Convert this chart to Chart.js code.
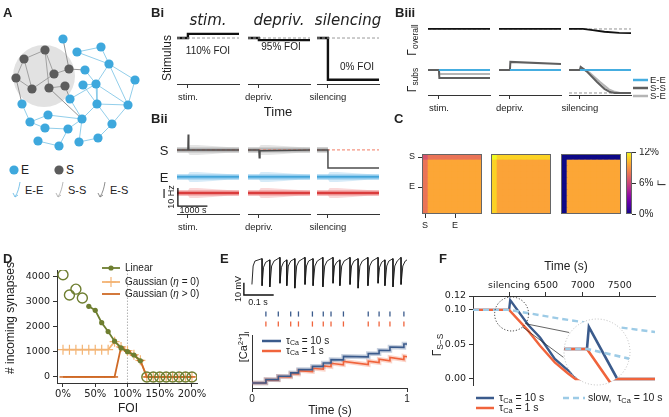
<!DOCTYPE html>
<html>
<head>
<meta charset="utf-8">
<title>Homeostatic rewiring figure</title>
<script src="https://cdn.jsdelivr.net/npm/chart.js@4.4.1/dist/chart.umd.min.js"></script>
<style>
  body { margin: 0; background: #fff; }
  #fig { position: relative; width: 669px; height: 417px; overflow: hidden;
         font-family: 'Liberation Sans', Arial, sans-serif; color: #222; }
  #fig canvas { position: absolute; }
  .t { position: absolute; white-space: nowrap; line-height: 1; }
  .pl { font-weight: bold; font-size: 13px; }
  sub { font-size: 70%; vertical-align: -0.25em; }
  sup { font-size: 70%; vertical-align: 0.45em; }
</style>
</head>
<body>
<div id="fig"></div>
<script>
// ---- A: toy network, node positions ----
const eNodes = [[63,39],[77,52],[101,47],[109,64],[135,80],[85,70],[83,85],[96,84],[70,99],[97,104],[128,105],
                [22,104],[48,115],[30,122],[45,128],[82,119],[112,124],[68,129],[38,141],[59,146],[79,142],[98,138]];
const sNodes = [[45,50],[24,59],[54,74],[69,69],[16,78],[32,89],[49,88],[65,86]];
const eeEdges = [[1,2],[2,3],[1,3],[3,4],[3,7],[3,10],[4,10],[5,7],[6,7],[7,10],[7,9],[9,10],[9,16],[10,16],
                 [7,8],[8,15],[15,9],[15,17],[15,20],[20,21],[17,19],[19,18],[11,13],[13,12],[13,14],[12,15],[6,9],[14,17],[21,16]];
const ssEdges = [[0,1],[0,2],[1,5],[4,5],[5,2],[2,3],[6,7],[0,6],[1,4]];
const esEdges = [[3,0],[4,11],[6,15],[7,8],[3,5]];   // [S index, E index]
const assembly = [44, 76];

// ---- B: protocols ----
const protocols = ['stim.', 'depriv.', 'silencing'];
const stimLevel = [1.1, 0.95, 0];
const foiLabel = ['110% FOI', '95% FOI', '0% FOI'];
const tEnd = 2100, tEvent = 370;

// Bii firing rates (Hz)
const sRate = [
  [[0,10],[370,10],[380,18.5],[398,10],[2100,10]],
  [[0,10],[370,10],[382,5.6],[405,9.6],[2100,10]],
  [[0,10],[370,10],[371,0],[2100,0]]
];
const sTarget = 10, eRate = 5, iRate = 8;
const spreadT  = [0, 370, 430, 700, 1200, 1700, 2100];
const spreadHz = [1.4, 1.4, 2.8, 2.8, 2.2, 1.6, 1.4];

// Biii connectivity
const gOverall = [
  [[0,0.1],[2100,0.1]],
  [[0,0.1],[2100,0.1]],
  [[0,0.1],[470,0.1],[800,0.095],[1200,0.088],[1700,0.083],[2100,0.082]]
];
const gEE = [[370,0.1],[2100,0.1]];
const gSS = [
  [[0,0.1],[370,0.1],[385,0.065],[2100,0.065]],
  [[0,0.1],[370,0.1],[385,0.135],[2100,0.126]],
  [[0,0.1],[370,0.1],[395,0.113],[600,0.094],[950,0.048],[1200,0.018],[1390,0.004],[1550,0],[2100,0]]
];
const gSE = [
  [[0,0.1],[370,0.1],[385,0.083],[2100,0.083]],
  [[0,0.1],[2100,0.1]],
  [[0,0.1],[370,0.1],[405,0.11],[700,0.088],[1050,0.048],[1350,0.016],[1550,0.005],[1730,0],[2100,0]]
];

// C: connectivity matrices (% connected) per block
const heatSS = [6.6, 12, 0];
const heatSE = [7.8, 10.9, 0];
const heatES = [7.8, 10.9, 0];
const heatEE = [9.6, 9.5, 9.6];
const nCells = 10;
const cbTicks = [0, 6, 12];

// D: incoming synapses vs FOI
const foiTicks = [0, 50, 100, 150, 200];
const synTicks = [0, 1000, 2000, 3000, 4000];
const foiOpen = [[0,4050],[10,3250],[20,3480],[30,3130],[130,0],[140,0],[150,0],[160,0],[170,0],[180,0],[190,0],[200,0]];
const foiLinear = [[40,2800],[50,2640],[60,2150],[70,1800],[80,1420],[90,1150],[100,1000],[110,870],[120,640]];
const foiGauss0 = [[0,1080],[10,1080],[20,1080],[30,1080],[40,1080],[50,1080],[60,1080],[70,1080],[80,1400],[90,1190],
                   [100,1040],[110,880],[120,660],[130,0],[140,0],[150,0],[160,0],[170,0],[180,0],[190,0],[200,0]];
const foiGaussPos = [[0,0],[10,0],[20,0],[30,0],[40,0],[50,0],[60,0],[70,0],[80,0],[90,1180],
                     [100,1020],[110,860],[120,650],[130,0],[140,0],[150,0],[160,0],[170,0],[180,0],[190,0],[200,0]];

// E: membrane potential (s, mV), spikes (s), calcium (a.u.)
const vTrace = [[0.000,-67],[0.004,-52],[0.010,-48],[0.034,-46],[0.034,-68],[0.039,-53],[0.046,-49],[0.060,-47],
  [0.060,-69],[0.066,-52],[0.074,-48],[0.094,-45],[0.094,-66],[0.099,-53],[0.106,-49],[0.117,-47],
  [0.117,-68],[0.122,-52],[0.130,-48],[0.144,-46],[0.144,-70],[0.150,-52],[0.158,-48],[0.178,-45],
  [0.178,-67],[0.183,-52],[0.190,-48],[0.205,-46],[0.205,-68],[0.211,-52],[0.219,-48],[0.238,-45],
  [0.238,-69],[0.244,-52],[0.252,-48],[0.272,-45],[0.272,-66],[0.277,-52],[0.284,-49],[0.295,-47],
  [0.295,-68],[0.301,-52],[0.309,-48],[0.329,-45],[0.329,-67],[0.334,-52],[0.342,-48],[0.356,-46],
  [0.356,-70],[0.362,-52],[0.370,-48],[0.389,-45],[0.389,-68],[0.395,-52],[0.403,-48],[0.423,-45],
  [0.423,-66],[0.428,-53],[0.435,-49],[0.446,-47],[0.446,-68],[0.452,-52],[0.459,-48],[0.473,-46],
  [0.473,-69],[0.479,-52],[0.487,-48],[0.500,-45],[0.500,-67],[0.506,-52],[0.514,-48],[0.520,-47]];
const spikeT = [0.09,0.17,0.25,0.30,0.39,0.46,0.51,0.59,0.75,0.82,0.89,0.98];
const caSlow = [[0,0],[0.09,0],[0.09,1.0],[0.17,0.99],[0.17,1.99],[0.25,1.98],[0.25,2.98],[0.30,2.96],[0.30,3.96],
  [0.39,3.93],[0.39,4.93],[0.46,4.89],[0.46,5.89],[0.51,5.86],[0.51,6.86],[0.59,6.81],[0.59,7.81],[0.75,7.68],
  [0.75,8.68],[0.82,8.62],[0.82,9.62],[0.89,9.56],[0.89,10.56],[0.98,10.46],[0.98,11.46],[1.0,11.44]];
const caFast = [[0,0],[0.09,0],[0.09,1.0],[0.17,0.92],[0.17,1.92],[0.25,1.77],[0.25,2.77],[0.30,2.64],[0.30,3.64],
  [0.39,3.33],[0.39,4.33],[0.46,4.04],[0.46,5.04],[0.51,4.79],[0.51,5.79],[0.59,5.35],[0.59,6.35],[0.75,5.41],
  [0.75,6.41],[0.82,5.98],[0.82,6.98],[0.89,6.51],[0.89,7.51],[0.98,6.86],[0.98,7.86],[1.0,7.70]];

// F: S-S connectivity after silencing
const tSilence = 6000;
const fTicks = [6000, 6500, 7000, 7500];
const gTicks = [0, 0.05, 0.10, 0.12];
const fTau10 = [[5510,0.1],[6000,0.1],[6015,0.114],[6260,0.078],[6420,0.060],[6620,0.029],[6760,0.016],[6900,0.004],[6980,0],[7980,0]];
const fTau1 = [[5510,0.1],[6000,0.1],[6250,0.071],[6420,0.048],[6620,0.024],[6800,0.008],[6900,0],[7980,0]];
const fSlow = [[5510,0.1],[6000,0.1],[6700,0.087],[7400,0.076],[7980,0.068]];
const lensAt = [6034, 0.094];

// ---------------- styling / helpers ----------------
const cE = '#3ea8dd', cS = '#5c5c5c';
const cEE = '#45ade0', cSS = '#5f5f5f', cSE = '#b5b5b5';
const cLin = '#6e7e30', cG0 = '#f3b474', cGp = '#cf6a26';
const c10 = '#3b5b8c', c1 = '#f0643c', cSlow = '#9dcbe6';
const plasma = ['#0d0887','#41049d','#6a00a8','#8f0da4','#b12a90','#cc4778','#e16462','#f2844b','#fca636','#fcce25','#f0f921'];
const dv = "'DejaVu Sans', sans-serif";

Chart.defaults.animation = false;
Chart.defaults.responsive = false;
Chart.defaults.events = [];
Chart.defaults.layout.autoPadding = false;
Chart.defaults.font.family = "'Liberation Sans', Arial, sans-serif";
Chart.defaults.font.size = 9.5;
Chart.defaults.color = '#222';
Chart.defaults.plugins.legend.display = false;
Chart.defaults.plugins.tooltip.enabled = false;
Chart.defaults.elements.point.radius = 0;
Chart.defaults.elements.line.tension = 0;

const fig = document.getElementById('fig');
const pts = arr => arr.map(([x, y]) => ({ x, y }));
const shift = (arr, off) => arr.map(([x, y]) => [x, y + off]);
const ln = (data, color, width, extra) =>
  Object.assign({ data: pts(data), borderColor: color, borderWidth: width, pointRadius: 0, fill: false }, extra);
const off = (min, max, extra) => Object.assign({ type: 'linear', display: false, min, max }, extra);
const fixW = w => s => { s.width = w; s.paddingTop = 0; s.paddingBottom = 0; s.paddingLeft = 0; s.paddingRight = 0; };
const fixH = h => s => { s.height = h; s.paddingLeft = 0; s.paddingRight = 0; s.paddingTop = 0; s.paddingBottom = 0; };
const tickGrid = { display: true, drawOnChartArea: false, drawTicks: true, tickLength: 4, color: '#333' };
const axisLine = { display: true, color: '#333', width: 1 };

function chartAt(x, y, w, h, cfg) {
  const c = document.createElement('canvas');
  c.width = w; c.height = h;
  c.style.left = x + 'px'; c.style.top = y + 'px';
  c.style.width = w + 'px'; c.style.height = h + 'px';
  fig.appendChild(c);
  return new Chart(c, cfg);
}

function txt(html, x, y, size, o = {}) {
  const d = document.createElement('div');
  d.className = 't' + (o.cls ? ' ' + o.cls : '');
  d.innerHTML = html;
  d.style.left = x + 'px'; d.style.top = y + 'px';
  if (size) d.style.fontSize = size + 'px';
  const tx = o.left ? '0' : '-50%';
  d.style.transform = `translate(${tx},-50%)` + (o.rot ? ` rotate(${o.rot}deg)` : '');
  if (o.style) d.style.cssText += o.style;
  fig.appendChild(d);
}

const svgNS = 'http://www.w3.org/2000/svg';
const svg = document.createElementNS(svgNS, 'svg');
svg.setAttribute('width', 669); svg.setAttribute('height', 417);
svg.style.cssText = 'position:absolute;left:0;top:0;pointer-events:none';
function sv(tag, attrs) {
  const e = document.createElementNS(svgNS, tag);
  for (const k in attrs) e.setAttribute(k, attrs[k]);
  svg.appendChild(e);
}
const legLine = (x1, x2, y, color, w, dash) =>
  sv('line', { x1, y1: y, x2, y2: y, stroke: color, 'stroke-width': w, 'stroke-dasharray': dash || 'none' });

const hex = h => [1, 3, 5].map(i => parseInt(h.slice(i, i + 2), 16));
function plasmaAt(f) {
  f = Math.max(0, Math.min(1, f)) * (plasma.length - 1);
  const k = Math.min(Math.floor(f), plasma.length - 2), u = f - k;
  const a = hex(plasma[k]), b = hex(plasma[k + 1]);
  return `rgb(${a.map((v, j) => Math.round(v + (b[j] - v) * u)).join(',')})`;
}

const frame = {
  id: 'frame',
  afterDraw(c) {
    const a = c.chartArea, ctx = c.ctx;
    ctx.save(); ctx.strokeStyle = '#666'; ctx.lineWidth = 1;
    ctx.strokeRect(a.left + 0.5, a.top + 0.5, a.right - a.left - 1, a.bottom - a.top - 1);
    ctx.restore();
  }
};

// ---------------- A ----------------
const edgePts = (edges, from, to) => edges.flatMap(([a, b]) => [
  { x: from[a][0], y: from[a][1] }, { x: to[b][0], y: to[b][1] }, { x: null, y: null }]);

chartAt(0, 20, 150, 140, {
  type: 'line',
  data: { datasets: [
    { data: pts(eNodes), showLine: false, pointRadius: 4.6, pointBackgroundColor: cE, pointBorderWidth: 0 },
    { data: pts(sNodes), showLine: false, pointRadius: 4.6, pointBackgroundColor: cS, pointBorderWidth: 0 },
    { data: edgePts(eeEdges, eNodes, eNodes), borderColor: '#86c8e8', borderWidth: 0.9, pointRadius: 0 },
    { data: edgePts(ssEdges, sNodes, sNodes), borderColor: '#9a9a9a', borderWidth: 0.9, pointRadius: 0 },
    { data: edgePts(esEdges, sNodes, eNodes), borderColor: '#8a8a8a', borderWidth: 0.9, pointRadius: 0 },
    { type: 'bubble', data: [{ x: assembly[0], y: assembly[1], r: 31 }], backgroundColor: '#e2e2e2', borderWidth: 0 }
  ] },
  options: { scales: { x: off(0, 150), y: off(20, 160, { reverse: true }) } }
});

sv('circle', { cx: 14, cy: 170, r: 4.6, fill: cE });
sv('circle', { cx: 59, cy: 170, r: 4.6, fill: cS });
txt('E', 21, 170, 12, { left: true });
txt('S', 66, 170, 12, { left: true });
[[14, '#6fbde6', 'E-E'], [57, '#b0b0b0', 'S-S'], [99, '#808080', 'E-S']].forEach(([x, col, name]) => {
  sv('path', { d: `M${x + 6},182 C${x + 5},188 ${x + 4},192 ${x + 1},197`, stroke: col, fill: 'none', 'stroke-width': 0.9 });
  sv('path', { d: `M${x - 1},193 L${x + 1},197 L${x + 4},195`, stroke: col, fill: 'none', 'stroke-width': 0.9 });
  txt(name, x + 11, 190, 11, { left: true });
});

// ---------------- Bi ----------------
const colB = [177, 248, 317], colBiii = [428, 499, 569], colW = 62;
const eventAxis = (label, h, pad) => ({
  type: 'linear', min: 0, max: tEnd, afterFit: fixH(h),
  afterBuildTicks: s => { s.ticks = [{ value: tEvent }]; },
  ticks: { callback: () => label, padding: pad, maxRotation: 0, autoSkip: false, font: { size: 9.5 } },
  grid: tickGrid, border: axisLine
});

protocols.forEach((p, i) => {
  chartAt(colB[i] - 20, 0, colW + 40, 106, {
    type: 'line',
    data: { datasets: [
      ln([[0, 1], [tEnd, 1]], '#9a9a9a', 1, { borderDash: [3, 2] }),
      ln([[0, 1], [tEvent, 1], [tEvent, stimLevel[i]], [tEnd, stimLevel[i]]], '#111', 2.4)
    ] },
    options: { layout: { padding: { left: 20, right: 20, top: 28 } },
      scales: { x: eventAxis(p, 22, 4), y: off(-0.1, 1.24) } }
  });
  txt(p, colB[i] + colW / 2, 20, 15, { style: `font-style:italic;font-family:${dv}` });
});
txt(foiLabel[0], 208, 51, 10);
txt(foiLabel[1], 281, 47, 10);
txt(foiLabel[2], 357, 67, 10);
txt('Stimulus', 167, 58, 12, { rot: -90 });
txt('Time', 278, 111, 13);

// ---------------- Bii ----------------
const offS = 25.6, offE = 15.6, offI = 3.7, sbBase = 4.4;
function band(level, offset, times, widths, color) {
  const lo = times.map((t, k) => [t, level - widths[k] + offset]);
  const hi = times.map((t, k) => [t, level + widths[k] + offset]);
  return [ln(lo, 'rgba(0,0,0,0)', 0), ln(hi, 'rgba(0,0,0,0)', 0, { fill: '-1', backgroundColor: color })];
}
protocols.forEach((p, i) => {
  const silent = i === 2;
  const sBase = silent ? [[0, sTarget], [tEvent, sTarget]] : [[0, sTarget], [tEnd, sTarget]];
  const sT = silent ? spreadT.filter(t => t <= tEvent) : spreadT;
  const ds = [
    ln(shift(sRate[i], offS), '#4d4d4d', 1.5),
    ln(shift([[0, sTarget], [tEnd, sTarget]], offS), '#f27a62', 1, { borderDash: [3, 2] }),
    ln(shift(sBase, offS), '#b9b9b9', 5),
    ...band(sTarget, offS, sT, spreadHz, 'rgba(175,175,175,0.32)'),
    ln(shift([[0, eRate], [tEnd, eRate]], offE), '#2b98d3', 1.4),
    ln(shift([[0, eRate], [tEnd, eRate]], offE), 'rgba(95,180,228,0.6)', 5),
    ...band(eRate, offE, spreadT, spreadHz, 'rgba(120,190,232,0.3)'),
    ln(shift([[0, iRate], [tEnd, iRate]], offI), '#d42020', 1.4),
    ln(shift([[0, iRate], [tEnd, iRate]], offI), 'rgba(228,95,95,0.6)', 5),
    ...band(iRate, offI, spreadT, spreadHz, 'rgba(238,125,125,0.3)')
  ];
  if (i === 0) ds.unshift(ln([[30, sbBase + 10], [30, sbBase], [1030, sbBase]], '#111', 1.3));
  chartAt(colB[i] - 20, 125, colW + 40, 107, {
    type: 'line', data: { datasets: ds },
    options: { layout: { padding: { left: 20, right: 20, top: 5 } },
      scales: { x: eventAxis(p, 18, 4), y: off(0, 84 / 1.8) } }
  });
});
txt('S', 164, 150, 13);
txt('E', 164, 177, 13);
txt('I', 164, 193, 13);
txt('10 Hz', 171, 197, 9, { rot: -90 });
txt('1000 s', 193, 210, 9);

// ---------------- Biii ----------------
protocols.forEach((p, i) => {
  const ds = [
    ln(gOverall[i], '#111', 1.8, { yAxisID: 'yo' }),
    ln([[0, 0.1], [tEnd, 0.1]], '#888', 0.9, { borderDash: [3, 2], yAxisID: 'yo' }),
    ln(gEE, cEE, 2, { yAxisID: 'ys' }),
    ln(gSS[i], cSS, 2, { yAxisID: 'ys' }),
    ln(gSE[i], cSE, 2, { yAxisID: 'ys' })
  ];
  if (i === 2) ds.push(ln([[0, 0], [tEnd, 0]], '#888', 0.9, { borderDash: [3, 2], yAxisID: 'ys' }));
  chartAt(colBiii[i] - 20, 10, colW + 40, 110, {
    type: 'line', data: { datasets: ds },
    options: { layout: { padding: { left: 20, right: 20, top: 10 } },
      scales: { x: eventAxis(p, 25, 4), yo: off(-0.187, 0.139), ys: off(-0.0087, 0.317) } }
  });
});
txt('Γ<sub>overall</sub>', 413, 40, 12, { rot: -90 });
txt('Γ<sub>subs</sub>', 413, 80, 12, { rot: -90 });
legLine(633, 648, 80, cEE, 2.5); txt('E-E', 650, 80, 9.5, { left: true });
legLine(633, 648, 88, cSS, 2.5); txt('S-S', 650, 88, 9.5, { left: true });
legLine(633, 648, 96, cSE, 2.5); txt('S-E', 650, 96, 9.5, { left: true });

// ---------------- C ----------------
const cols = Array.from({ length: nCells }, (_, c) => c);
const cellValue = (i, r, c) => (r === 0 && c === 0) ? heatSS[i] : r === 0 ? heatSE[i] : c === 0 ? heatES[i] : heatEE[i];
[422, 491, 561].forEach((x0, i) => {
  const datasets = [];
  for (let r = nCells - 1; r >= 0; r--) {
    datasets.push({ data: cols.map(() => 1), backgroundColor: cols.map(c => plasmaAt(cellValue(i, r, c) / 12)),
      borderWidth: 0, barPercentage: 1, categoryPercentage: 1 });
  }
  const first = i === 0;
  const xs = { stacked: true, display: first };
  const ys = { stacked: true, min: 0, max: nCells, display: first };
  if (first) {
    Object.assign(xs, { afterFit: fixH(20),
      afterBuildTicks: s => { s.ticks = [{ value: 0 }, { value: 5 }]; },
      ticks: { callback: v => v === 0 ? 'S' : 'E', padding: 2, autoSkip: false, maxRotation: 0, font: { size: 9 } },
      grid: Object.assign({}, tickGrid, { offset: false }), border: { display: false } });
    Object.assign(ys, { afterFit: fixW(22),
      afterBuildTicks: s => { s.ticks = [{ value: nCells - 0.5 }, { value: (nCells - 1) / 2 }]; },
      ticks: { callback: v => v > nCells / 2 ? 'S' : 'E', padding: 3, autoSkip: false, font: { size: 9 } },
      grid: tickGrid, border: { display: false } });
  }
  chartAt(first ? x0 - 22 : x0 - 2, 150, first ? 84 : 64, 84, {
    type: 'bar', data: { labels: cols, datasets },
    options: {
      layout: { padding: first ? { top: 4, right: 2 } : { top: 4, left: 2, right: 2, bottom: 20 } },
      scales: { x: xs, y: ys }
    },
    plugins: [frame]
  });
});
chartAt(620, 148, 49, 70, {
  type: 'bar',
  data: { labels: [''], datasets: [{ data: [12], borderWidth: 0, barPercentage: 1, categoryPercentage: 1,
    backgroundColor: ctx => {
      const a = ctx.chart.chartArea;
      if (!a) return plasma[8];
      const g = ctx.chart.ctx.createLinearGradient(0, a.bottom, 0, a.top);
      plasma.forEach((c, k) => g.addColorStop(k / (plasma.length - 1), c));
      return g;
    } }] },
  options: {
    layout: { padding: { left: 6, top: 4, bottom: 4 } },
    scales: {
      x: { display: false },
      y: { position: 'right', min: 0, max: 12, afterFit: fixW(37),
        afterBuildTicks: s => { s.ticks = cbTicks.map(v => ({ value: v })); },
        ticks: { callback: v => v + '%', padding: 3, font: { size: 10 } },
        grid: tickGrid, border: { display: false } }
    }
  },
  plugins: [frame]
});
txt('Γ', 662, 183, 11, { rot: -90 });

// ---------------- D ----------------
chartAt(0, 262, 240, 155, {
  type: 'line',
  data: { datasets: [
    { data: pts(foiOpen), showLine: false, pointRadius: 5, pointBorderColor: cLin,
      pointBackgroundColor: 'rgba(0,0,0,0)', pointBorderWidth: 1.4 },
    { data: pts(foiLinear), borderColor: cLin, borderWidth: 1.8, pointRadius: 2.6,
      pointBackgroundColor: cLin, pointBorderWidth: 0 },
    { data: pts(foiGaussPos), borderColor: cGp, borderWidth: 1.8, pointStyle: 'line', pointRadius: 3.5,
      pointBorderColor: cGp, pointBorderWidth: 1.5 },
    { data: pts(foiGauss0), borderColor: cG0, borderWidth: 1.8, pointStyle: 'cross', pointRadius: 5,
      pointBorderColor: cG0, pointBorderWidth: 1.2 },
    ln([[100, -240], [100, 4240]], '#aaa', 0.9, { borderDash: [1.5, 1.5] })
  ] },
  options: {
    layout: { padding: { top: 8, right: 43 } },
    scales: {
      x: { type: 'linear', min: -9.3, max: 207.8, afterFit: fixH(34),
        afterBuildTicks: s => { s.ticks = foiTicks.map(v => ({ value: v })); },
        ticks: { callback: v => v + '%', padding: 1, autoSkip: false, maxRotation: 0, font: { size: 10, family: dv } },
        grid: tickGrid, border: axisLine },
      y: { min: -240, max: 4240, afterFit: fixW(57),
        afterBuildTicks: s => { s.ticks = synTicks.map(v => ({ value: v })); },
        ticks: { callback: v => String(v), padding: 3, font: { size: 9.5, family: dv } },
        grid: tickGrid, border: axisLine }
    }
  }
});
txt('# incoming synapses', 10, 318, 12, { rot: -90 });
txt('FOI', 128, 408, 12);
legLine(102, 120, 268, cLin, 1.8); sv('circle', { cx: 111, cy: 268, r: 2.6, fill: cLin });
legLine(102, 120, 282, cG0, 1.8);
sv('path', { d: 'M111,277 L111,287 M106,282 L116,282', stroke: cG0, 'stroke-width': 1.2 });
legLine(102, 120, 294, cGp, 1.8);
txt('Linear', 125, 268, 10, { left: true });
txt('Gaussian (<i>η</i> = 0)', 125, 282, 10, { left: true });
txt('Gaussian (<i>η</i> &gt; 0)', 125, 294, 10, { left: true });

// ---------------- E ----------------
chartAt(240, 250, 167, 80, {
  type: 'line',
  data: { datasets: [
    ln(vTrace, '#111', 0.9, { xAxisID: 'xv', yAxisID: 'yv' }),
    ln([[-0.027, -65.6], [-0.027, -75.6], [0.073, -75.6]], '#111', 1.4, { xAxisID: 'xv', yAxisID: 'yv' }),
    { data: spikeT.map(t => ({ x: t, y: 1 })), xAxisID: 'xr', yAxisID: 'yr', showLine: false,
      pointStyle: 'line', pointRotation: 90, pointRadius: 2.6, pointBorderColor: c10, pointBorderWidth: 1.3 },
    { data: spikeT.map(t => ({ x: t, y: 0 })), xAxisID: 'xr', yAxisID: 'yr', showLine: false,
      pointStyle: 'line', pointRotation: 90, pointRadius: 2.6, pointBorderColor: c1, pointBorderWidth: 1.3 }
  ] },
  options: { scales: { xv: off(-0.040, 0.520), xr: off(-0.077, 1), yv: off(-104, -39), yr: off(-0.6, 7.4) } }
});
chartAt(232, 330, 190, 87, {
  type: 'line',
  data: { datasets: [
    ln(caSlow, c10, 1.6), ln(caFast, c1, 1.6),
    ln(caSlow, 'rgba(59,91,140,0.28)', 4.5), ln(caFast, 'rgba(240,100,60,0.28)', 4.5)
  ] },
  options: {
    layout: { padding: { top: 5, right: 15 } },
    scales: {
      x: { type: 'linear', min: 0, max: 1, afterFit: fixH(29),
        afterBuildTicks: s => { s.ticks = [{ value: 0 }, { value: 1 }]; },
        ticks: { callback: v => String(v), padding: 1, font: { size: 10 } },
        grid: tickGrid, border: axisLine },
      y: { min: -1.47, max: 14.1, afterFit: fixW(20), ticks: { display: false },
        grid: { display: false }, border: axisLine }
    }
  }
});
txt('10 mV', 238, 289, 9, { rot: -90 });
txt('0.1 s', 258, 302, 9);
txt('[Ca<sup>2+</sup>]<sub>i</sub>', 244, 347, 11, { rot: -90 });
txt('Time (s)', 330, 410, 12);
legLine(262, 281, 341, c10, 2.5); txt('τ<sub>Ca</sub> = 10 s', 286, 341, 10, { left: true });
legLine(262, 281, 351, c1, 2.5); txt('τ<sub>Ca</sub> = 1 s', 286, 351, 10, { left: true });

// ---------------- F ----------------
const lensR = 17, insetC = [597, 352], insetR = 34;
const zoomMark = {
  id: 'zoomMark',
  afterDatasetsDraw(c) {
    const x = c.scales.x.getPixelForValue(lensAt[0]), y = c.scales.y.getPixelForValue(lensAt[1]);
    const ctx = c.ctx, cx = insetC[0] - 440, cy = insetC[1] - 262, rad = d => d * Math.PI / 180;
    ctx.save();
    ctx.strokeStyle = '#222'; ctx.lineWidth = 0.9; ctx.setLineDash([1.2, 1.8]);
    ctx.beginPath(); ctx.arc(x, y, lensR, 0, 2 * Math.PI); ctx.stroke();
    ctx.setLineDash([]); ctx.lineWidth = 0.7;
    [[35, -145], [50, 171]].forEach(([a, b]) => {
      ctx.beginPath();
      ctx.moveTo(x + lensR * Math.cos(rad(a)), y + lensR * Math.sin(rad(a)));
      ctx.lineTo(cx + insetR * Math.cos(rad(b)), cy + insetR * Math.sin(rad(b)));
      ctx.stroke();
    });
    ctx.restore();
  }
};
chartAt(440, 262, 229, 155, {
  type: 'line',
  data: { datasets: [
    ln(fSlow, cSlow, 2.4, { borderDash: [6, 4] }),
    ln(fTau1, c1, 2.4),
    ln(fTau10, c10, 2.4)
  ] },
  options: {
    layout: { padding: { right: 14, bottom: 32 } },
    scales: {
      x: { type: 'linear', position: 'top', min: 5510, max: 7980, afterFit: fixH(34),
        afterBuildTicks: s => { s.ticks = fTicks.map(v => ({ value: v })); },
        ticks: { callback: v => v === tSilence ? 'silencing' : String(v), padding: 1, autoSkip: false,
          maxRotation: 0, font: { size: 9.5, family: dv } },
        grid: tickGrid, border: axisLine },
      y: { min: -0.0087, max: 0.12, afterFit: fixW(33),
        afterBuildTicks: s => { s.ticks = gTicks.map(v => ({ value: v })); },
        ticks: { callback: v => v.toFixed(2), padding: 3, font: { size: 9.5, family: dv } },
        grid: tickGrid, border: axisLine }
    }
  },
  plugins: [zoomMark]
});
const lens = {
  id: 'lens',
  beforeDraw(c) {
    const ctx = c.ctx, r = c.width / 2;
    ctx.save(); ctx.beginPath(); ctx.arc(r, r, r - 1, 0, 2 * Math.PI);
    ctx.fillStyle = '#fff'; ctx.fill(); ctx.clip();
  },
  afterDraw(c) {
    const ctx = c.ctx, r = c.width / 2;
    ctx.restore();
    ctx.save(); ctx.beginPath(); ctx.arc(r, r, r - 1, 0, 2 * Math.PI);
    ctx.setLineDash([1, 2]); ctx.strokeStyle = '#bbb'; ctx.lineWidth = 1; ctx.stroke(); ctx.restore();
  }
};
chartAt(insetC[0] - insetR, insetC[1] - insetR, 2 * insetR, 2 * insetR, {
  type: 'line',
  data: { datasets: [
    ln(fSlow, cSlow, 2.6, { borderDash: [6, 4] }),
    ln(fTau1, c1, 2.6),
    ln(fTau10, c10, 2.6)
  ] },
  options: { scales: { x: off(5810, 6349), y: off(0.0764, 0.1197) } },
  plugins: [lens]
});
txt('Time (s)', 566, 266, 12);
txt('Γ<sub>S−S</sub>', 438, 345, 12, { rot: -90 });
legLine(476, 494, 398, c10, 2.5); txt('τ<sub>Ca</sub> = 10 s', 499, 398, 10.5, { left: true });
legLine(476, 494, 408, c1, 2.5); txt('τ<sub>Ca</sub> = 1 s', 499, 408, 10.5, { left: true });
legLine(563, 585, 398, cSlow, 2.5, '6 4'); txt('slow,&nbsp; τ<sub>Ca</sub> = 10 s', 588, 398, 10.5, { left: true });

// ---------------- panel letters ----------------
[['A', 3, 12], ['Bi', 151, 12], ['Biii', 395, 12], ['Bii', 151, 118], ['C', 394, 118],
 ['D', 3, 258], ['E', 220, 258], ['F', 439, 258]].forEach(([s, x, y]) => txt(s, x, y, 0, { left: true, cls: 'pl' }));

fig.appendChild(svg);
</script>
</body>
</html>
